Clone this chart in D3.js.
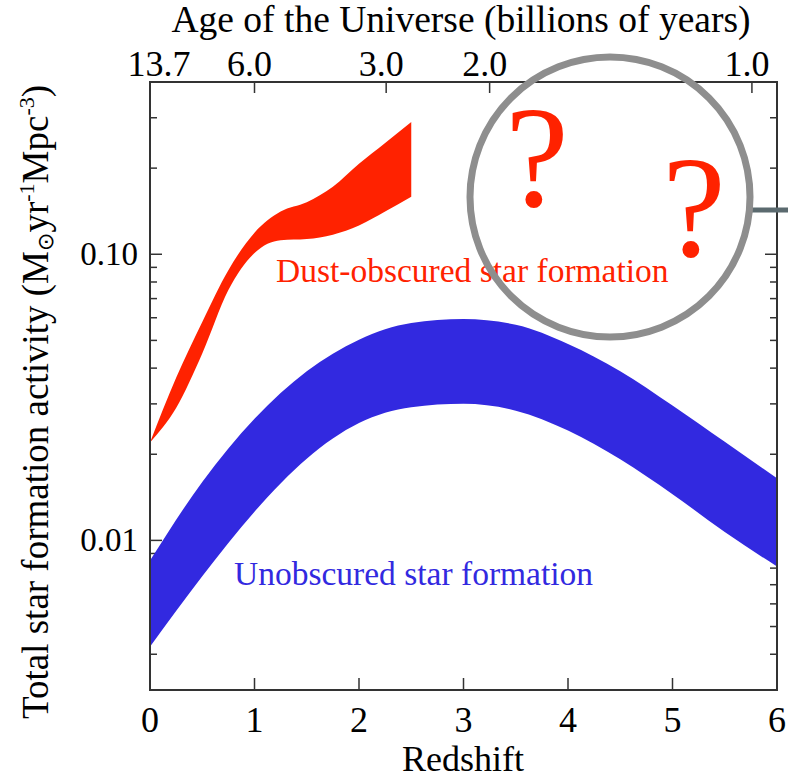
<!DOCTYPE html>
<html>
<head>
<meta charset="utf-8">
<script src="https://cdn.jsdelivr.net/npm/d3@7"></script>
<style>
  body { margin: 0; background: #fff; }
  svg text { font-family: "Liberation Serif", "Times New Roman", serif; }
</style>
</head>
<body>
<div id="chart"></div>
<script>
// redshift grid and star formation rate density bands (Msun / yr / Mpc^3)
var dustRedshift = [0, 0.25, 0.5, 0.75, 1.0, 1.25, 1.5, 1.75, 2.0, 2.25, 2.5];
var dustHigh = [0.022, 0.037, 0.058, 0.088, 0.119, 0.141, 0.152, 0.172, 0.207, 0.245, 0.290];
var dustLow = [0.022, 0.029, 0.045, 0.075, 0.101, 0.112, 0.113, 0.117, 0.126, 0.141, 0.159];

var uvRedshift = [0, 0.5, 1, 1.5, 2, 2.5, 3, 3.5, 4, 4.5, 5, 5.5, 6];
var uvHigh = [0.0085, 0.0160, 0.0266, 0.0390, 0.0503, 0.0575, 0.0594, 0.0567, 0.0486, 0.0390, 0.0296, 0.0221, 0.0165];
var uvLow = [0.00425, 0.0075, 0.0126, 0.0193, 0.0257, 0.0292, 0.0300, 0.0284, 0.0242, 0.0192, 0.0145, 0.0107, 0.0081];

// bottom axis
var redshiftTicks = [0, 1, 2, 3, 4, 5, 6];
// top axis: age of the universe and the redshift where it sits
var ageLabels = ["13.7", "6.0", "3.0", "2.0", "1.0"];
var ageRedshift = [0, 1.0, 2.26, 3.25, 5.76];
// left axis
var yMajorTicks = [0.01, 0.1];
var yMajorLabels = ["0.01", "0.10"];

function drawChart() {
    var width = 788, height = 781;
    var plotLeft = 150, plotRight = 777, plotTop = 82, plotBottom = 690;
    var red = "#ff2200", blue = "#3229e0", axisColor = "#333";

    var svg = d3.select("#chart").append("svg")
        .attr("width", width)
        .attr("height", height);

    var x = d3.scaleLinear().domain([0, 6]).range([plotLeft, plotRight]);
    var y = d3.scaleLog().domain([0.003, 0.4]).range([plotBottom, plotTop]);

    // minor log ticks, 2..9 of each decade inside the domain
    var yMinor = [];
    [0.001, 0.01, 0.1].forEach(function (dec) {
        for (var k = 2; k <= 9; k++) {
            var v = dec * k;
            if (v >= 0.003 && v <= 0.4) yMinor.push(v);
        }
    });

    var ticks = svg.append("g")
        .attr("stroke", axisColor)
        .attr("stroke-width", 1.5);

    // left and right ticks (pointing inward)
    yMinor.forEach(function (v) {
        ticks.append("line").attr("x1", plotLeft).attr("x2", plotLeft + 7).attr("y1", y(v)).attr("y2", y(v));
        ticks.append("line").attr("x1", plotRight).attr("x2", plotRight - 7).attr("y1", y(v)).attr("y2", y(v));
    });
    yMajorTicks.forEach(function (v) {
        ticks.append("line").attr("x1", plotLeft).attr("x2", plotLeft + 12).attr("y1", y(v)).attr("y2", y(v));
        ticks.append("line").attr("x1", plotRight).attr("x2", plotRight - 12).attr("y1", y(v)).attr("y2", y(v));
    });

    // bottom ticks
    redshiftTicks.slice(1, -1).forEach(function (z) {
        ticks.append("line").attr("x1", x(z)).attr("x2", x(z)).attr("y1", plotBottom).attr("y2", plotBottom - 12);
    });
    // top ticks
    ageRedshift.slice(1).forEach(function (z) {
        ticks.append("line").attr("x1", x(z)).attr("x2", x(z)).attr("y1", plotTop).attr("y2", plotTop + 11);
    });

    // bands
    var area = d3.area()
        .x(function (d) { return x(d.z); })
        .y0(function (d) { return y(d.lo); })
        .y1(function (d) { return y(d.hi); })
        .curve(d3.curveMonotoneX);

    var uvData = uvRedshift.map(function (z, i) { return { z: z, lo: uvLow[i], hi: uvHigh[i] }; });
    var dustData = dustRedshift.map(function (z, i) { return { z: z, lo: dustLow[i], hi: dustHigh[i] }; });

    svg.append("path").attr("d", area(uvData)).style("fill", blue);
    svg.append("path").attr("d", area(dustData)).style("fill", red);

    // frame
    svg.append("rect")
        .attr("x", plotLeft).attr("y", plotTop)
        .attr("width", plotRight - plotLeft).attr("height", plotBottom - plotTop)
        .attr("fill", "none")
        .attr("stroke", axisColor)
        .attr("stroke-width", 2);

    // tick labels
    svg.selectAll(".xlab").data(redshiftTicks).enter().append("text")
        .attr("x", function (d) { return x(d); })
        .attr("y", 732)
        .attr("text-anchor", "middle")
        .attr("font-size", 36)
        .text(function (d) { return d; });

    svg.selectAll(".agelab").data(ageLabels).enter().append("text")
        .attr("x", function (d, i) { return x(ageRedshift[i]) + (i === 0 ? 9 : -5); })
        .attr("y", 76)
        .attr("text-anchor", "middle")
        .attr("font-size", 36)
        .text(function (d) { return d; });

    svg.selectAll(".ylab").data(yMajorTicks).enter().append("text")
        .attr("x", 138)
        .attr("y", function (d) { return y(d) + 11; })
        .attr("text-anchor", "end")
        .attr("font-size", 33)
        .text(function (d, i) { return yMajorLabels[i]; });

    // axis titles
    svg.append("text")
        .attr("x", 463).attr("y", 771)
        .attr("text-anchor", "middle")
        .attr("font-size", 36)
        .text("Redshift");

    svg.append("text")
        .attr("x", 461).attr("y", 32)
        .attr("text-anchor", "middle")
        .attr("font-size", 37.5)
        .text("Age of the Universe (billions of years)");

    var yTitle = svg.append("text")
        .attr("transform", "translate(48,402) rotate(-90)")
        .attr("text-anchor", "middle")
        .attr("font-size", 37);
    yTitle.append("tspan").text("Total star formation activity (M");
    yTitle.append("tspan").attr("font-size", 22).attr("dy", 5)
        .style("font-family", "DejaVu Sans").text("\u2299");
    yTitle.append("tspan").attr("dy", -5).text("yr");
    yTitle.append("tspan").attr("font-size", 22).attr("dy", -14).text("-1");
    yTitle.append("tspan").attr("dy", 14).text("Mpc");
    yTitle.append("tspan").attr("font-size", 22).attr("dy", -14).text("-3");
    yTitle.append("tspan").attr("dy", 14).text(")");

    // band labels
    svg.append("text")
        .attr("x", 276).attr("y", 282)
        .attr("font-size", 33.5)
        .style("fill", red)
        .text("Dust-obscured star formation");

    svg.append("text")
        .attr("x", 234).attr("y", 585)
        .attr("font-size", 33.5)
        .style("fill", blue)
        .text("Unobscured star formation");

    // the unknown region
    svg.append("line")
        .attr("x1", 752).attr("x2", 790)
        .attr("y1", 210).attr("y2", 210)
        .attr("stroke", "#5b6a6f")
        .attr("stroke-width", 5);

    svg.append("circle")
        .attr("cx", 610).attr("cy", 197).attr("r", 140)
        .attr("fill", "none")
        .attr("stroke", "#8e8e8e")
        .attr("stroke-width", 7);

    svg.append("text")
        .attr("x", 537).attr("y", 206)
        .attr("text-anchor", "middle")
        .attr("font-size", 143)
        .style("fill", red)
        .text("?");

    svg.append("text")
        .attr("x", 694).attr("y", 256)
        .attr("text-anchor", "middle")
        .attr("font-size", 143)
        .style("fill", red)
        .text("?");
}

drawChart();
</script>
</body>
</html>
